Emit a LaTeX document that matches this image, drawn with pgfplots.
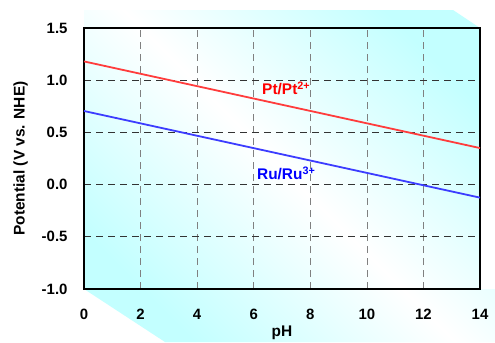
\documentclass[border=0pt]{standalone}
\usepackage{pgfplots}
\pgfplotsset{compat=1.18}
\usepackage{fontspec}
\setmainfont{Liberation Sans}
\definecolor{bgcyan}{RGB}{195,255,255}
\definecolor{linered}{RGB}{255,60,60}
\definecolor{lineblue}{RGB}{60,60,255}
\begin{document}
\begin{tikzpicture}[x=1bp,y=1bp]
\path[use as bounding box] (-84,-53) rectangle (411,289);
% decorative background panel
\shade[top color=bgcyan, bottom color=bgcyan, middle color=white, shading angle=-45]
  (0,279) -- (369,279) -- (396,261) -- (396,0) -- (411,0) -- (411,-53) -- (81,-53) -- (0,0) -- cycle;
\begin{axis}[
  at={(0,0)}, anchor=south west,
  scale only axis, width=396bp, height=261bp,
  xmin=0, xmax=14, ymin=-1.0, ymax=1.5,
  xtick={0,2,...,14},
  ytick={-1.0,-0.5,0,0.5,1.0,1.5},
  yticklabel style={xshift=-13bp, /pgf/number format/fixed, /pgf/number format/fixed zerofill, /pgf/number format/precision=1},
  /pgf/number format/assume math mode=true,
  tick label style={font=\fontsize{15}{17}\selectfont\bfseries},
  label style={font=\fontsize{15.5}{17}\selectfont\bfseries},
  xlabel={pH}, ylabel={Potential (V vs. NHE)},
  xticklabel style={yshift=-17bp},
  xlabel style={yshift=1bp},
  ylabel style={yshift=7bp},
  major tick length=0pt,
  axis line style={line width=1.6pt, black},
  grid=major,
  x grid style={dash pattern=on 7bp off 5bp, gray, line width=0.7pt},
  y grid style={dash pattern=on 7bp off 5bp, black!80, line width=0.7pt},
  clip=false,
]
\addplot[linered, line width=1.8pt] coordinates {(0,1.18) (14,0.35)};
\addplot[lineblue, line width=1.8pt] coordinates {(0,0.705) (14,-0.125)};
\node[red, font=\fontsize{15.5}{17}\selectfont\bfseries] at (axis cs:7.15,0.92) {Pt/Pt\textsuperscript{2+}};
\node[blue, font=\fontsize{15.5}{17}\selectfont\bfseries] at (axis cs:7.15,0.11) {Ru/Ru\textsuperscript{3+}};
\end{axis}
\end{tikzpicture}
\end{document}
